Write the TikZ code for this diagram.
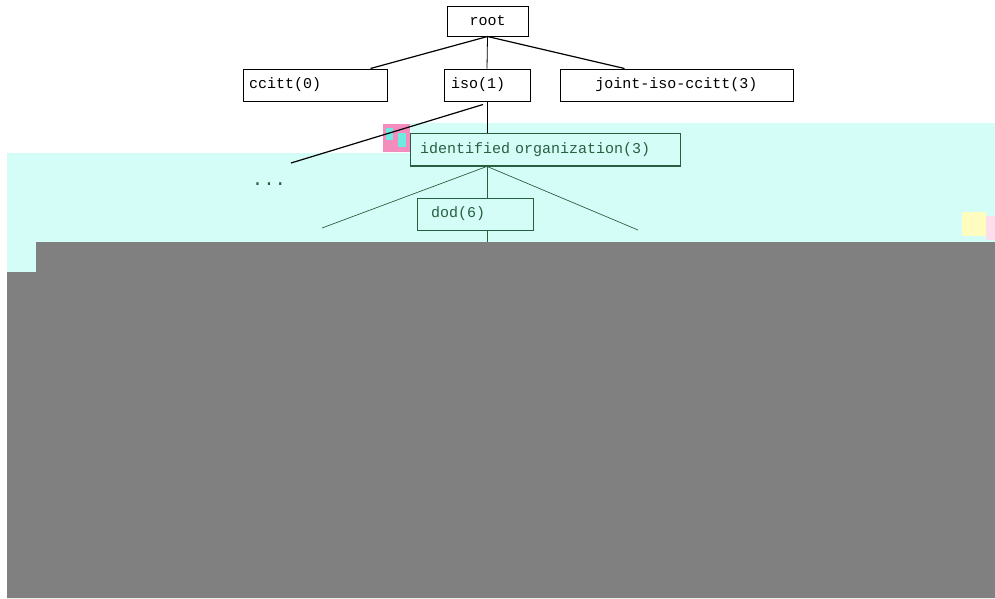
\documentclass[tikz,border=0pt]{standalone}
\usepackage{fontspec}
\setmonofont{Liberation Mono}
\usetikzlibrary{calc}
\definecolor{bandcyan}{RGB}{213,253,248}
\definecolor{deepgreen}{RGB}{40,95,65}
\definecolor{boxgray}{RGB}{128,128,128}
\definecolor{noisepink}{RGB}{245,140,190}
\definecolor{noisecyan}{RGB}{110,235,225}
\tikzset{
  topbox/.style={draw=black, line width=1pt, minimum height=30pt, inner sep=0pt, font=\ttfamily\fontsize{15}{17}\selectfont, text=black},
  greenbox/.style={draw=deepgreen, line width=0.8pt, inner sep=0pt, minimum height=32pt, font=\ttfamily\fontsize{15}{17}\selectfont, text=deepgreen},
  topline/.style={draw=black, line width=1.2pt},
  vertline/.style={draw=black, line width=0.8pt},
  greenline/.style={draw=deepgreen, line width=0.9pt},
  thinline/.style={draw=deepgreen, line width=0.7pt}
}
\begin{document}
\begin{tikzpicture}[x=1pt,y=-1pt]
\useasboundingbox (0,0) rectangle (995,598);
% background regions
\fill[white] (0,0) rectangle (995,598);
\fill[bandcyan] (7,153) -- (410,153) -- (410,123) -- (995,123) -- (995,272) -- (7,272) -- cycle;
\fill[boxgray] (36,242) -- (995,242) -- (995,598) -- (7,598) -- (7,272) -- (36,272) -- cycle;
% noise patches
\fill[noisepink] (383,124) rectangle (410,152);
\fill[noisecyan] (386,128) rectangle (393,140);
\fill[noisecyan] (398,133) rectangle (406,147);
\fill[yellow!25] (962,212) rectangle (986,236);
\fill[noisepink!30] (986,216) rectangle (995,240);
% top nodes
\node[topbox, minimum width=81pt] (root) at (487.5,21) {root};
\node[topbox, minimum width=144pt, minimum height=32pt, text width=132pt, align=left] (ccitt) at (315,85) {ccitt(0)};
\node[topbox, minimum width=86pt, minimum height=32pt, text width=72pt, align=left] (iso) at (487,85) {iso(1)};
\node[topbox, minimum width=233pt, minimum height=32pt] (joint) at (676.5,85) {joint-iso-ccitt(3)};
% green nodes
\node[greenbox, minimum width=270pt, minimum height=33pt, text width=250pt, align=left] (org) at (545,149.5) {identified organization(3)};
\node[greenbox, minimum width=116pt, text width=88pt, align=left] (dod) at (475,214) {dod(6)};
\node[font=\ttfamily\fontsize{19}{20}\selectfont, text=deepgreen] (dots) at (269,184) {...};
% free ends
\coordinate (leftend) at (291,163);
\coordinate (orgleft) at (322,228);
\coordinate (orgright) at (638,230);
\coordinate (dodend) at (487,242);
% connectors
\draw[topline] (root.south) -- ($(ccitt.north east)+(-17,0)$);
\draw[vertline] (root.south) -- (iso.north);
\draw[topline] (root.south) -- ($(joint.north west)+(65,0)$);
\draw[vertline] (iso.south) -- (org.north -| iso.south);
\draw[topline] ($(iso.south)+(-4,3)$) -- (leftend);
\draw[deepgreen, line width=2pt] (org.south west) -- (org.south east);
\draw[greenline] (org.south -| iso.south) -- (dod.north -| iso.south);
\draw[greenline] (dod.south -| iso.south) -- (dodend);
\draw[thinline] (org.south -| iso.south) -- (orgleft);
\draw[thinline] (org.south -| iso.south) -- (orgright);
\end{tikzpicture}
\end{document}
